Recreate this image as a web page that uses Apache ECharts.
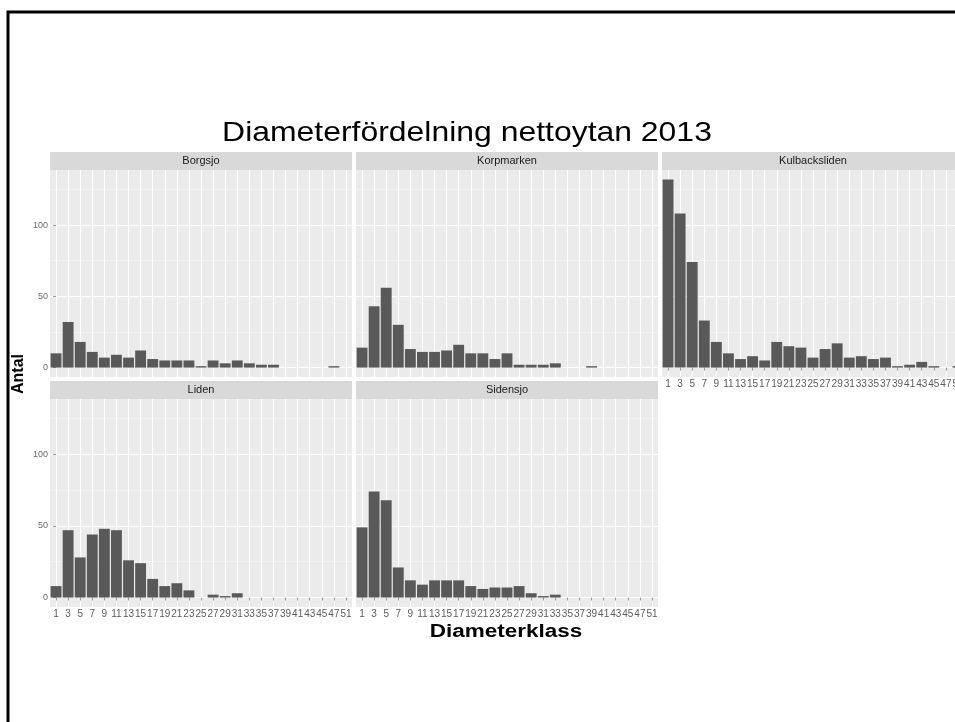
<!DOCTYPE html>
<html><head><meta charset="utf-8">
<script src="https://cdn.jsdelivr.net/npm/echarts@6/dist/echarts.min.js"></script>
<style>html,body{margin:0;padding:0;background:#fff}#c{width:955px;height:722px}</style>
</head><body><div id="c"></div>
<script>
// ---- data ----
const categories = ['1','3','5','7','9','11','13','15','17','19','21','23','25','27','29','31','33','35','37','39','41','43','45','47','51'];
const facetNames = ['Borgsjo','Korpmarken','Kulbacksliden','Liden','Sidensjo'];
const borgsjo       = [10,32,18,11,7,9,7,12,6,5,5,5,1,5,3,5,3,2,2,0,0,0,0,1,0];
const korpmarken    = [14,43,56,30,13,11,11,12,16,10,10,6,10,2,2,2,3,0,0,1,0,0,0,0,0];
const kulbacksliden = [132,108,74,33,18,10,6,8,5,18,15,14,7,13,17,7,8,6,7,1,2,4,1,0,1];
const liden         = [8,47,28,44,48,47,26,24,13,8,10,5,0,2,1,3,0,0,0,0,0,0,0,0,0];
const sidensjo      = [49,74,68,21,12,9,12,12,12,8,6,7,7,8,3,1,2,0,0,0,0,0,0,0,0];
const yMajorTicks = [0,50,100];
const yMinorTicks = [25,75,125];
const chartTitle = 'Diameterfördelning nettoytan 2013';
const xTitle = 'Diameterklass';
const yTitle = 'Antal';

// ---- layout ----
const seriesData = [borgsjo, korpmarken, kulbacksliden, liden, sidensjo];
const panels = [
  {left:50,  top:170, height:207, xl:false, yl:true},
  {left:356, top:170, height:207, xl:false, yl:false},
  {left:662, top:170, height:207, xl:true,  yl:false},
  {left:50,  top:399, height:208, xl:true,  yl:true},
  {left:356, top:399, height:208, xl:true,  yl:false}
];
const PW = 302;
const idx = categories.map((c,i)=>i);
const FONT = 'Liberation Sans, Arial, sans-serif';

const grid=[], xAxis=[], yAxis=[], series=[];
panels.forEach((p,i)=>{
  grid.push({left:p.left, top:p.top, width:PW, height:p.height, show:true,
    backgroundColor:'#EBEBEB', borderWidth:0, outerBoundsMode:'none', containLabel:false});
  xAxis.push({type:'value', gridIndex:i, min:-0.5, max:24.5, position:'bottom',
    axisLine:{show:false},
    axisTick:{show:p.xl, customValues:idx, length:3, lineStyle:{color:'#999', width:1}},
    axisLabel:{show:p.xl, customValues:idx, formatter:v=>categories[Math.round(v)],
      margin:2, fontSize:10, color:'#5a5a5a', fontFamily:FONT, hideOverlap:false},
    splitLine:{show:true, lineStyle:{color:'#ffffff', width:1.1}}
  });
  xAxis.push({type:'value', gridIndex:i, min:-0.5, max:24.5, position:'top',
    name:'{s|' + facetNames[i] + '}', nameLocation:'middle', nameGap:0,
    nameTextStyle:{verticalAlign:'bottom', align:'center',
      rich:{s:{fontSize:11, color:'#1A1A1A', fontFamily:FONT, backgroundColor:'#D9D9D9',
        width:PW, height:18, lineHeight:18, align:'center', verticalAlign:'middle'}}},
    axisLine:{show:false}, axisTick:{show:false}, axisLabel:{show:false}, splitLine:{show:false}
  });
  yAxis.push({type:'value', gridIndex:i, min:-6.6, max:138.6,
    axisLine:{show:false},
    axisTick:{show:p.yl, customValues:yMajorTicks, length:3, lineStyle:{color:'#999'}},
    axisLabel:{show:p.yl, customValues:yMajorTicks, margin:2, fontSize:9, color:'#6a6a6a', fontFamily:FONT},
    splitLine:{show:true, lineStyle:{color:'#ffffff', width:1.1}}
  });
  yAxis.push({type:'value', gridIndex:i, min:-6.6, max:138.6,
    axisLine:{show:false},
    axisTick:{show:false, customValues:yMinorTicks},
    axisLabel:{show:false, customValues:yMinorTicks},
    splitLine:{show:true, lineStyle:{color:'#F7F7F7', width:0.6}}
  });
  series.push({type:'bar', xAxisIndex:2*i, yAxisIndex:2*i, silent:true, z:3,
    data:seriesData[i].map((v,j)=>[j, v === 0 ? null : v]), barWidth:'90%',
    itemStyle:{color:'#595959'}});
});

const chart = echarts.init(document.getElementById('c'), null, {renderer:'canvas'});
chart.setOption({
  animation:false,
  backgroundColor:'#ffffff',
  grid, xAxis, yAxis, series,
  graphic:[
    {type:'rect', shape:{x:8, y:12, width:1200, height:1000}, style:{fill:'none', stroke:'#000', lineWidth:3}, silent:true},
    {type:'text', x:467, y:133, scaleX:1.14, style:{text:chartTitle, font:'28px '+FONT, fill:'#000', textAlign:'center', textVerticalAlign:'middle'}},
    {type:'text', x:506, y:632, scaleX:1.25, style:{text:xTitle, font:'bold 18px '+FONT, fill:'#000', textAlign:'center', textVerticalAlign:'middle'}},
    {type:'text', x:19, y:374, rotation:Math.PI/2, style:{text:yTitle, font:'bold 16px '+FONT, fill:'#000', textAlign:'center', textVerticalAlign:'middle'}}
  ]
});
</script></body></html>
